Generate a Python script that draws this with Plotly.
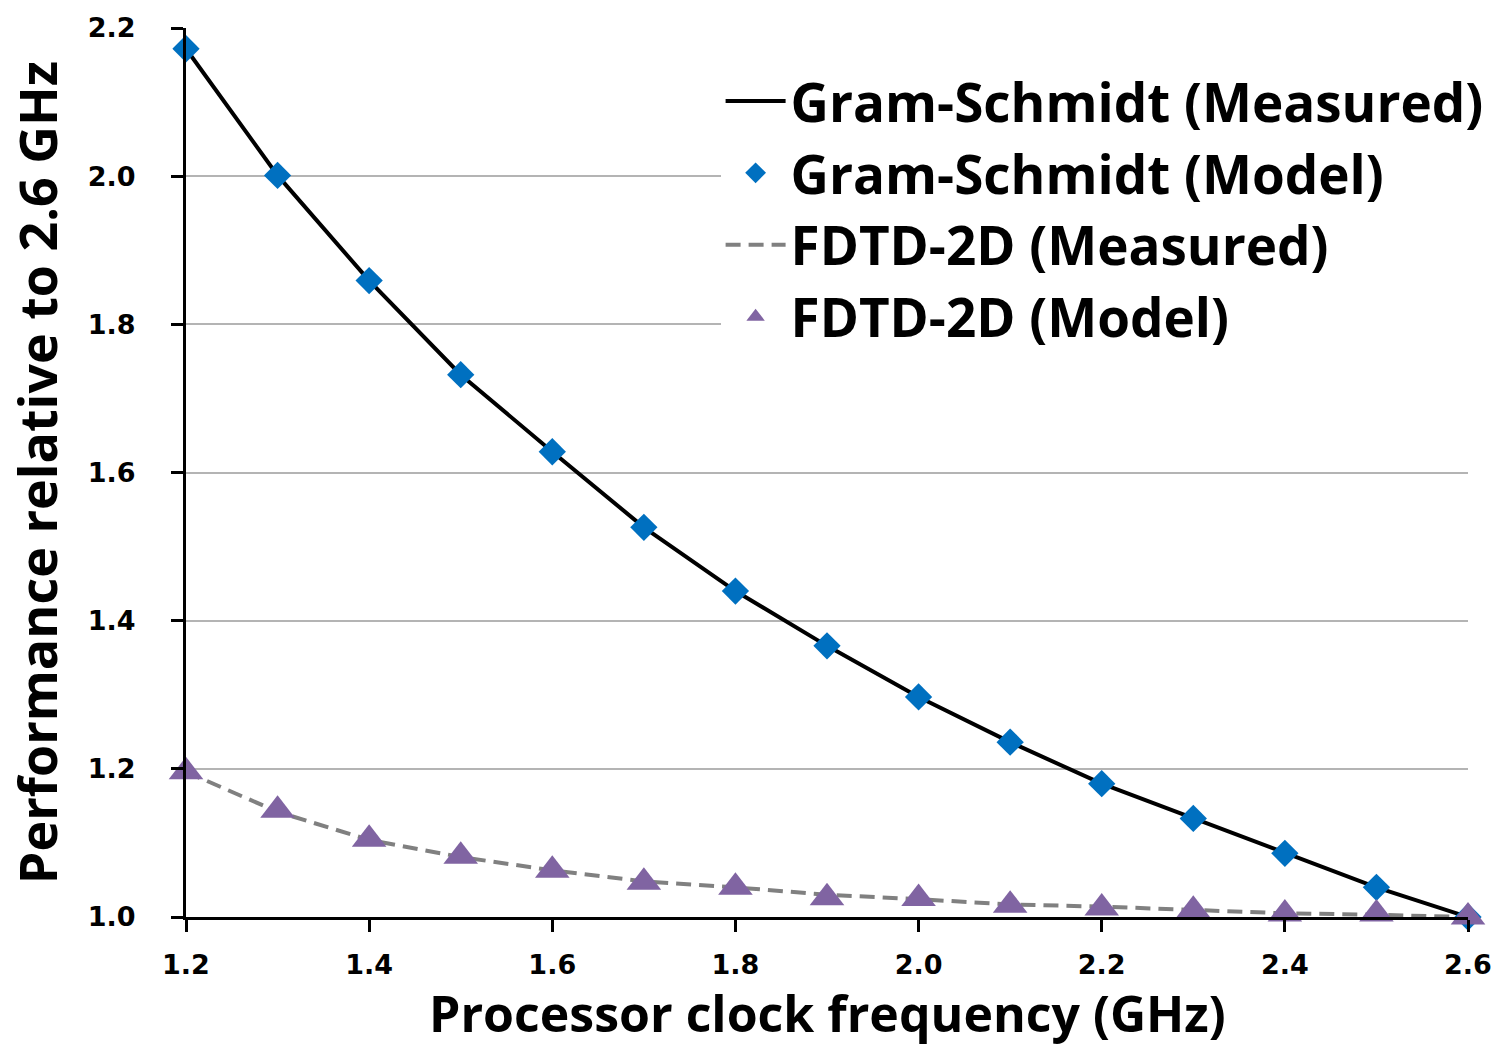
import plotly.graph_objects as go

freq = [1.2, 1.3, 1.4, 1.5, 1.6, 1.7, 1.8, 1.9, 2.0, 2.1, 2.2, 2.3, 2.4, 2.5, 2.6]
gs_measured = [2.172, 2.001, 1.859, 1.732, 1.628, 1.526, 1.440, 1.366, 1.297, 1.236, 1.180, 1.133, 1.086, 1.040, 1.000]
gs_model = [2.172, 2.001, 1.859, 1.732, 1.628, 1.526, 1.440, 1.366, 1.297, 1.236, 1.180, 1.133, 1.086, 1.040, 1.000]
fdtd_measured = [1.196, 1.142, 1.104, 1.081, 1.063, 1.048, 1.040, 1.030, 1.024, 1.017, 1.014, 1.010, 1.005, 1.003, 1.000]
fdtd_model = [1.196, 1.144, 1.105, 1.082, 1.063, 1.047, 1.040, 1.026, 1.025, 1.016, 1.012, 1.009, 1.004, 1.004, 1.000]

x_ticks = [1.2, 1.4, 1.6, 1.8, 2.0, 2.2, 2.4, 2.6]
y_ticks = [1.0, 1.2, 1.4, 1.6, 1.8, 2.0, 2.2]
x_title = "Processor clock frequency (GHz)"
y_title = "Performance relative to 2.6 GHz"

fig = go.Figure()
fig.add_trace(go.Scatter(x=freq, y=gs_measured, mode="lines", name="Gram-Schmidt (Measured)",
                         line=dict(color="black", width=4)))
fig.add_trace(go.Scatter(x=freq, y=gs_model, mode="markers", name="Gram-Schmidt (Model)",
                         marker=dict(symbol="diamond", color="#0070C0", size=21)))
fig.add_trace(go.Scatter(x=freq, y=fdtd_measured, mode="lines", name="FDTD-2D (Measured)",
                         line=dict(color="#808080", width=4, dash="15px,8px")))
fig.add_trace(go.Scatter(x=freq, y=fdtd_model, mode="markers", name="FDTD-2D (Model)",
                         marker=dict(symbol="triangle-up", color="#8064A2", size=30)))

title_font = dict(family="'Open Sans', sans-serif", size=52, color="black", weight="bold")
xtitle_font = dict(family="'Open Sans', sans-serif", size=50, color="black", weight="bold")
tick_font = dict(family="'DejaVu Sans', Verdana, sans-serif", size=27, color="black", weight="bold")

fig.update_layout(
    width=1512, height=1049,
    margin=dict(l=186, r=44, t=23, b=132),
    plot_bgcolor="white", paper_bgcolor="white",
    showlegend=True,
    legend=dict(x=0.417, xanchor="left", y=0.964, yanchor="top",
                bgcolor="white",
                font=dict(family="'Open Sans', sans-serif", size=53, color="black", weight="bold"),
                itemwidth=60, tracegroupgap=0),
    xaxis=dict(range=[1.2, 2.6], tickvals=x_ticks, ticktext=[f"{v:.1f}" for v in x_ticks],
               showline=True, linecolor="black", linewidth=3, ticks="outside", ticklen=12,
               tickwidth=3, tickcolor="black", showgrid=False, zeroline=False,
               tickfont=tick_font, ticklabelstandoff=10),
    yaxis=dict(range=[1.0, 2.2], tickvals=y_ticks, ticktext=[f"{v:.1f}" for v in y_ticks],
               showline=True, linecolor="black", linewidth=3, ticks="outside", ticklen=12,
               tickwidth=3, tickcolor="black", showgrid=True, gridcolor="#B4B4B4", gridwidth=1.5,
               zeroline=False, tickfont=tick_font, ticklabelstandoff=30,
               title=dict(text=y_title, font=title_font, standoff=14)),
    annotations=[dict(text=x_title, xref="paper", yref="paper", x=0.5, y=-0.1085,
                      xanchor="center", yanchor="middle", showarrow=False, font=xtitle_font)],
)
for tr in fig.data:
    tr.cliponaxis = False
fig.write_html("out.html")
